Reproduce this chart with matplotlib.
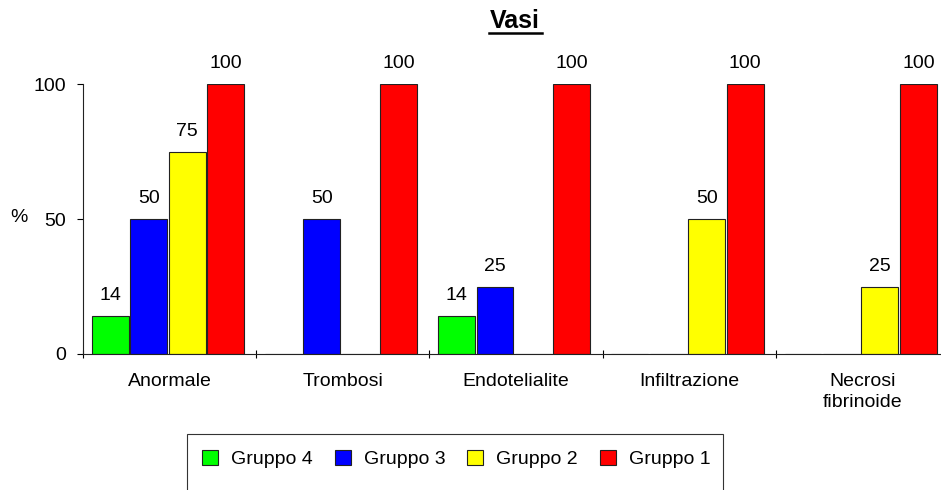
import numpy as np
import matplotlib.pyplot as plt
from matplotlib.patches import Rectangle

plt.rcParams['font.family'] = ['Liberation Sans', 'DejaVu Sans']

# data
categories = ["Anormale", "Trombosi", "Endotelialite", "Infiltrazione", "Necrosi\nfibrinoide"]
groups = ["Gruppo 4", "Gruppo 3", "Gruppo 2", "Gruppo 1"]
gruppo4 = [14, 0, 14, 0, 0]
gruppo3 = [50, 50, 25, 0, 0]
gruppo2 = [75, 0, 0, 50, 25]
gruppo1 = [100, 100, 100, 100, 100]
colors = ["#00ff00", "#0000ff", "#ffff00", "#ff0000"]

series = [gruppo4, gruppo3, gruppo2, gruppo1]
FS = 14

fig = plt.figure(figsize=(9.41, 4.9), dpi=100)
ax = fig.add_axes([83 / 941, 136 / 490, 866 / 941, 270 / 490])

x = np.arange(len(categories))
w = 0.213
offsets = (np.arange(4) - 1.5) * 0.222 - 0.01
for vals, col, off, name in zip(series, colors, offsets, groups):
    bars = ax.bar(x + off, vals, width=w, color=col, edgecolor="#222222",
                  linewidth=0.8, label=name)
    for b, v in zip(bars, vals):
        if v > 0:
            ax.annotate(str(v), (b.get_x() + b.get_width() / 2, v),
                        xytext=(0, 11.5), textcoords="offset points",
                        ha="center", va="baseline", fontsize=FS)

ax.set_xlim(-0.5, len(categories) - 0.5)
ax.set_ylim(0, 100)
ax.set_yticks([0, 50, 100])
ax.tick_params(axis="y", labelsize=FS, length=4, width=0.8, pad=8)
ax.set_xticks(x)
ax.set_xticklabels(categories, fontsize=FS, linespacing=1.3)
ax.tick_params(axis="x", which="major", length=0, pad=14)
ax.set_xticks(np.arange(len(categories) + 1) - 0.5, minor=True)
ax.tick_params(axis="x", which="minor", length=6, width=0.8, direction="inout")
for s in ["top", "right"]:
    ax.spines[s].set_visible(False)
for s in ["left", "bottom"]:
    ax.spines[s].set_linewidth(0.8)
    ax.spines[s].set_color("#222222")

fig.text(19 / 941, 1 - 218 / 490, "%", fontsize=FS, ha="center", va="center")
fig.text(515 / 941, 1 - 21 / 490, "Vasi", fontsize=18, fontweight="bold",
         ha="center", va="center")
fig.add_artist(plt.Line2D([489 / 941, 542 / 941], [1 - 33 / 490, 1 - 33 / 490],
                          color="black", linewidth=1.8))

# legend box, cut off at the bottom like the original
fig.add_artist(Rectangle((187 / 941, -0.05), 536 / 941, 0.05 + (490 - 434) / 490,
                         transform=fig.transFigure, facecolor="white",
                         edgecolor="#333333", linewidth=0.8))
handles, labels = ax.get_legend_handles_labels()
fig.legend(handles, labels, loc="center left", ncol=4,
           bbox_to_anchor=(202 / 941, 1 - 459 / 490), frameon=False,
           fontsize=FS, handlelength=0.82, handleheight=0.82,
           handletextpad=0.67, columnspacing=1.13, borderpad=0,
           borderaxespad=0)

fig.savefig("out.png", dpi=100)
